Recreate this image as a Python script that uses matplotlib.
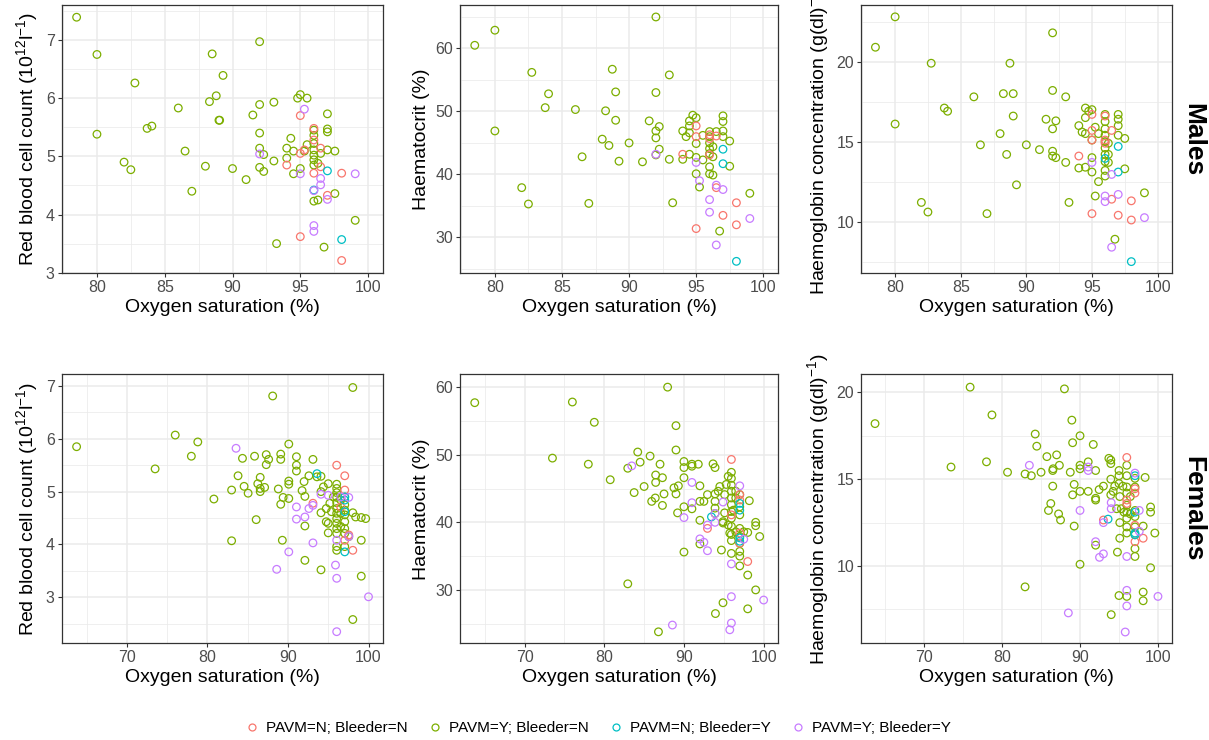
import matplotlib
matplotlib.use("Agg")
import matplotlib.pyplot as plt
from matplotlib.lines import Line2D
from matplotlib.ticker import MultipleLocator, FixedLocator

plt.rcParams['font.family'] = ['Liberation Sans', 'DejaVu Sans']
plt.rcParams['mathtext.fontset'] = 'custom'
plt.rcParams['mathtext.rm'] = 'Liberation Sans'
plt.rcParams['mathtext.it'] = 'Liberation Sans:italic'
plt.rcParams['mathtext.bf'] = 'Liberation Sans:bold'

# ---------------- data ----------------
groups = ["PAVM=N; Bleeder=N", "PAVM=Y; Bleeder=N", "PAVM=N; Bleeder=Y", "PAVM=Y; Bleeder=Y"]
colors = ["#F8766D", "#7CAE00", "#00BFC4", "#C77CFF"]
rows = ["Males", "Females"]
xlabel = "Oxygen saturation (%)"
ylabels = [r"Red blood cell count (10$^{12}$l$^{-1}$)", "Haematocrit (%)",
           r"Haemoglobin concentration (g(dl)$^{-1}$)"]

# Males - red blood cell count
m_rbc_nn = [(95.0, 5.70), (94.0, 4.85), (95.0, 5.05), (95.0, 3.62), (96.0, 5.48), (96.0, 5.28),
            (96.0, 4.71), (96.5, 5.14), (96.5, 4.82), (97.0, 4.33), (98.05, 4.71), (98.05, 3.21), (95.3, 5.11)]
m_rbc_yn = [(78.5, 7.39), (80, 6.75), (80, 5.38), (82.8, 6.26), (82.0, 4.90), (82.5, 4.77), (83.7, 5.48),
            (84.05, 5.52), (86.0, 5.83), (86.5, 5.09), (87.0, 4.40), (88.0, 4.83), (88.3, 5.94), (88.5, 6.76),
            (88.8, 6.04), (89.0, 5.62), (89.05, 5.62), (89.3, 6.39), (90.0, 4.79), (91.0, 4.60), (91.5, 5.71),
            (92.0, 6.97), (92.0, 5.89), (92.0, 5.40), (92.0, 5.14), (92.0, 4.81), (92.3, 5.03), (92.3, 4.74),
            (93.05, 5.93), (93.05, 4.92), (93.25, 3.50), (94.0, 5.14), (94.0, 4.97), (94.3, 5.31), (94.5, 5.09),
            (94.5, 4.70), (94.8, 6.00), (95.0, 6.06), (95.0, 4.79), (95.3, 5.09), (95.5, 5.20), (95.5, 6.00),
            (96.0, 5.45), (96.0, 5.36), (96.0, 5.22), (96.0, 5.11), (96.0, 5.02), (96.0, 4.94), (96.0, 4.85),
            (96.0, 4.23), (96.3, 4.88), (96.3, 4.25), (96.5, 5.05), (96.75, 3.44), (97.0, 5.73), (97.0, 5.47),
            (97.0, 5.42), (97.0, 5.11), (97.55, 5.09), (97.55, 4.36), (99.05, 3.90)]
m_rbc_ny = [(97.0, 4.75), (96.0, 4.42), (98.05, 3.57)]
m_rbc_yy = [(95.3, 5.81), (92.0, 5.04), (95.0, 4.70), (96.5, 4.62), (96.5, 4.51), (96.0, 4.41), (97.0, 4.26),
            (96.0, 3.81), (96.0, 3.71), (99.05, 4.70)]

# Males - haematocrit
m_hct_nn = [(95.0, 47.7), (95.0, 46.0), (95.0, 31.4), (94.0, 43.2), (96.0, 46.3), (96.0, 45.7), (96.5, 46.1),
            (96.5, 37.9), (96.0, 43.1), (97.0, 33.5), (98.0, 35.5), (98.0, 32.0)]
m_hct_yn = [(78.5, 60.5), (80, 62.9), (80, 46.9), (82.75, 56.2), (82.0, 37.9), (82.5, 35.3), (83.75, 50.6),
            (84.0, 52.8), (86.0, 50.3), (86.5, 42.8), (87.0, 35.4), (88.0, 45.6), (88.25, 50.1), (88.5, 44.6),
            (88.75, 56.7), (89.0, 53.1), (89.0, 48.6), (89.25, 42.1), (90.0, 45.0), (91.0, 42.0), (91.5, 48.5),
            (92.0, 65.0), (92.0, 53.0), (92.0, 46.9), (92.0, 45.8), (92.0, 43.1), (92.25, 47.6), (92.25, 44.0),
            (93.0, 55.8), (93.0, 42.4), (93.25, 35.5), (94.0, 46.9), (94.0, 42.4), (94.25, 46.0), (94.5, 48.5),
            (94.5, 47.7), (94.5, 46.6), (94.5, 43.2), (94.75, 49.4), (95.0, 49.0), (95.0, 44.9), (95.0, 42.7),
            (95.0, 40.1), (95.25, 38.0), (95.5, 46.2), (95.5, 42.3), (96.0, 46.8), (96.0, 46.0), (96.0, 45.0),
            (96.0, 44.1), (96.0, 43.3), (96.0, 41.2), (96.0, 40.1), (96.25, 44.4), (96.25, 42.8), (96.25, 39.9),
            (96.5, 46.8), (96.75, 31.0), (97.0, 49.3), (97.0, 48.4), (97.0, 46.9), (97.0, 46.0), (97.5, 45.3),
            (97.5, 41.3), (99.0, 37.0)]
m_hct_ny = [(97.0, 44.0), (97.0, 41.7), (98.0, 26.2)]
m_hct_yy = [(92.0, 43.2), (95.0, 41.9), (95.25, 39.0), (96.5, 38.3), (97.0, 37.6), (96.0, 36.0), (96.0, 34.0),
            (96.5, 28.8), (99.0, 33.0)]

# Males - haemoglobin
m_hb_nn = [(95.0, 16.7), (95.0, 15.7), (95.0, 15.1), (95.0, 10.5), (94.0, 14.1), (96.0, 16.6), (96.0, 15.1),
           (96.0, 14.9), (96.5, 15.7), (96.5, 11.4), (97.0, 10.4), (98.0, 11.3), (98.0, 10.1)]
m_hb_yn = [(78.5, 20.9), (80, 22.8), (80, 16.1), (82.75, 19.9), (82.0, 11.2), (82.5, 10.6), (83.75, 17.1),
           (84.0, 16.9), (86.0, 17.8), (86.5, 14.8), (87.0, 10.5), (88.0, 15.5), (88.25, 18.0), (88.5, 14.2),
           (88.75, 19.9), (89.0, 18.0), (89.0, 16.6), (89.25, 12.3), (90.0, 14.8), (91.0, 14.5), (91.5, 16.4),
           (92.0, 21.8), (92.0, 18.2), (92.0, 15.8), (92.0, 14.4), (92.0, 14.1), (92.25, 16.3), (92.25, 14.0),
           (93.0, 17.8), (93.0, 13.7), (93.25, 11.2), (94.0, 16.0), (94.0, 13.35), (94.25, 15.6), (94.5, 17.1),
           (94.5, 16.5), (94.5, 15.5), (94.5, 13.4), (94.75, 16.9), (95.0, 17.0), (95.0, 15.1), (95.0, 14.0),
           (95.0, 13.1), (95.25, 15.9), (95.25, 11.6), (95.5, 15.5), (95.5, 12.5), (96.0, 16.7), (96.0, 16.25),
           (96.0, 15.8), (96.0, 15.4), (96.0, 15.0), (96.0, 14.6), (96.0, 14.2), (96.0, 13.75), (96.0, 13.2),
           (96.0, 12.85), (96.25, 14.9), (96.25, 14.2), (96.25, 13.7), (96.75, 8.9), (97.0, 16.7), (97.0, 16.4),
           (97.0, 16.0), (97.0, 15.4), (97.5, 15.2), (97.5, 13.3), (99.0, 11.8)]
m_hb_ny = [(97.0, 14.7), (97.0, 13.1), (96.0, 13.95), (98.0, 7.5)]
m_hb_yy = [(95.0, 13.7), (96.5, 12.95), (96.0, 11.6), (96.0, 11.25), (97.0, 11.7), (96.5, 8.4), (99.0, 10.25)]

# Females - red blood cell count
f_rbc_nn = [(96.05, 5.50), (97.05, 5.30), (97.05, 5.03), (97.05, 4.90), (93.1, 4.78), (97.05, 4.08),
            (98.05, 3.89), (96.55, 4.71), (97.55, 4.18)]
f_rbc_yn = [(63.75, 5.85), (73.5, 5.43), (76.0, 6.07), (78.0, 5.67), (78.8, 5.94), (80.8, 4.86), (83.0, 4.07),
            (83.0, 5.03), (83.8, 5.30), (84.35, 5.63), (84.55, 5.10), (85.05, 4.97), (85.85, 5.67), (86.05, 4.47),
            (86.25, 5.15), (86.55, 5.27), (86.55, 5.06), (86.55, 5.00), (87.1, 5.08), (87.3, 5.70), (87.3, 5.51),
            (87.6, 5.61), (88.1, 6.81), (88.8, 5.05), (89.1, 5.71), (89.1, 5.61), (89.1, 4.76), (89.3, 4.08),
            (89.4, 4.89), (90.1, 5.90), (90.1, 5.20), (90.1, 5.14), (90.1, 4.87), (91.05, 5.66), (91.05, 5.50),
            (91.05, 5.39), (91.75, 5.02), (92.0, 5.19), (92.1, 4.91), (92.1, 4.35), (92.1, 3.70), (92.6, 5.30),
            (93.1, 5.61), (93.6, 5.28), (94.1, 5.29), (94.1, 5.00), (94.1, 3.52), (94.1, 4.60), (94.4, 5.09),
            (94.75, 4.68), (94.75, 4.43), (95.0, 5.15), (95.0, 4.40), (95.0, 4.22), (95.2, 4.78), (95.4, 4.62),
            (95.65, 4.90), (96.05, 5.14), (96.05, 5.06), (96.05, 4.98), (96.05, 4.89), (96.05, 4.79),
            (96.05, 4.68), (96.05, 4.59), (96.05, 4.49), (96.05, 4.40), (96.05, 4.30), (96.05, 4.21),
            (96.05, 3.96), (96.05, 3.89), (96.55, 4.84), (96.55, 4.59), (96.55, 4.34), (97.05, 4.75),
            (97.05, 4.65), (97.05, 4.56), (97.05, 4.43), (97.05, 4.30), (97.05, 4.21), (97.05, 3.96),
            (97.55, 4.15), (98.05, 4.60), (98.05, 6.97), (98.05, 2.58), (98.4, 4.52), (99.1, 4.51), (99.1, 4.08),
            (99.1, 3.40), (99.65, 4.49)]
f_rbc_ny = [(93.6, 5.34), (97.05, 4.84), (97.05, 4.62), (97.05, 3.86), (97.05, 4.90)]
f_rbc_yy = [(83.55, 5.82), (88.6, 3.53), (90.1, 3.86), (91.05, 4.71), (91.05, 4.48), (92.1, 4.52), (92.6, 4.68),
            (93.1, 4.03), (93.1, 4.74), (94.1, 4.95), (95.0, 4.93), (95.9, 3.61), (96.05, 3.36), (96.05, 2.35),
            (96.05, 4.08), (97.55, 4.89), (97.55, 4.15), (100.0, 3.01), (96.55, 4.90)]

# Females - haematocrit
f_hct_nn = [(95.95, 49.3), (97.0, 44.1), (97.0, 43.3), (95.95, 41.1), (92.95, 39.1), (97.0, 36.9), (98.0, 34.2),
            (97.0, 38.4)]
f_hct_yn = [(63.75, 57.7), (73.5, 49.5), (76.0, 57.8), (78.0, 48.6), (78.75, 54.8), (80.75, 46.3), (82.95, 48.0),
            (82.95, 30.9), (83.75, 44.4), (84.2, 50.4), (84.5, 48.9), (85.0, 45.3), (85.75, 49.8), (85.95, 43.1),
            (86.4, 43.6), (86.45, 47.0), (86.45, 45.9), (86.8, 23.8), (87.0, 48.6), (87.3, 42.5), (87.3, 46.6),
            (87.5, 44.2), (87.95, 60.0), (88.75, 45.1), (89.0, 44.2), (89.0, 50.7), (89.0, 54.3), (89.2, 41.4),
            (89.3, 45.4), (90.0, 49.0), (90.0, 48.1), (90.0, 46.6), (90.0, 42.3), (90.0, 35.6), (91.0, 48.6),
            (91.0, 48.3), (91.0, 42.0), (91.8, 48.6), (92.0, 45.4), (92.0, 43.1), (92.0, 40.3), (92.0, 36.8),
            (92.5, 43.1), (92.95, 44.1), (93.65, 48.65), (93.9, 48.1), (93.9, 44.2), (93.9, 43.1), (93.9, 42.1),
            (93.9, 41.3), (93.95, 26.5), (94.3, 44.6), (94.5, 45.3), (94.7, 35.9), (94.9, 40.1), (94.9, 39.9),
            (94.9, 28.1), (95.1, 44.1), (95.1, 41.4), (95.3, 45.6), (95.55, 46.8), (95.55, 39.6), (95.75, 38.4),
            (95.95, 47.4), (95.95, 46.5), (95.95, 45.5), (95.95, 44.6), (95.95, 43.6), (95.95, 42.6),
            (95.95, 41.6), (95.95, 40.6), (95.95, 39.4), (95.95, 38.2), (95.95, 37.3), (95.95, 35.4),
            (96.2, 41.8), (96.5, 44.6), (96.5, 43.6), (96.5, 38.6), (97.0, 44.1), (97.0, 42.3), (97.0, 41.1),
            (97.0, 39.1), (97.0, 37.9), (97.0, 36.9), (97.0, 35.7), (97.0, 35.0), (97.0, 33.55), (98.0, 38.5),
            (98.0, 32.2), (98.0, 27.2), (98.2, 43.2), (99.0, 40.0), (99.0, 39.5), (99.0, 30.0), (99.5, 37.9),
            (97.5, 38.6)]
f_hct_ny = [(93.45, 40.8), (97.0, 42.8), (97.0, 41.8), (97.0, 37.7), (97.0, 37.2)]
f_hct_yy = [(83.45, 48.35), (90.0, 40.7), (91.0, 45.9), (91.0, 42.9), (92.0, 37.55), (92.5, 37.05), (92.95, 39.6),
            (92.95, 35.8), (93.9, 41.3), (93.9, 40.0), (94.9, 43.0), (95.95, 33.85), (95.95, 29.0), (95.95, 25.1),
            (95.75, 24.1), (88.55, 24.8), (97.0, 45.4), (97.5, 37.5), (100.0, 28.5)]

# Females - haemoglobin
f_hb_nn = [(96.0, 16.25), (97.05, 14.45), (97.05, 14.2), (96.0, 13.8), (96.0, 13.6), (93.0, 12.65), (97.05, 11.4),
           (98.1, 11.6), (97.05, 12.35)]
f_hb_yn = [(63.7, 18.2), (73.45, 15.7), (75.9, 20.3), (78.0, 16.0), (78.7, 18.7), (80.7, 15.4), (82.95, 15.3),
           (82.95, 8.8), (83.75, 15.2), (84.25, 17.6), (84.45, 16.9), (85.0, 15.4), (85.75, 16.3), (85.95, 13.2),
           (86.25, 13.6), (86.5, 14.6), (86.5, 15.5), (86.55, 15.6), (87.0, 16.4), (87.25, 13.0), (87.35, 15.8),
           (87.5, 12.65), (88.0, 20.2), (88.75, 15.4), (88.95, 18.4), (89.05, 17.1), (89.05, 14.1), (89.25, 14.7),
           (89.25, 12.3), (90.0, 17.5), (90.0, 15.8), (90.0, 15.6), (90.0, 14.3), (90.0, 10.1), (91.05, 16.0),
           (91.05, 14.3), (91.7, 17.0), (92.0, 15.5), (92.0, 13.9), (92.0, 13.8), (92.0, 11.2), (92.45, 14.4),
           (93.0, 14.6), (93.7, 16.2), (93.95, 16.1), (93.95, 15.9), (93.95, 15.0), (93.95, 14.1), (94.0, 7.2),
           (94.25, 14.3), (94.45, 14.6), (94.7, 13.3), (94.8, 10.8), (95.0, 15.5), (95.0, 15.2), (95.0, 14.75),
           (95.0, 8.3), (95.1, 14.0), (95.1, 12.5), (95.1, 11.6), (95.3, 13.3), (95.5, 14.6), (95.65, 13.1),
           (96.0, 15.8), (96.0, 15.2), (96.0, 14.55), (96.0, 14.2), (96.0, 13.5), (96.0, 13.1), (96.0, 12.75),
           (96.0, 12.25), (96.0, 11.9), (96.0, 8.25), (96.45, 14.0), (96.45, 13.0), (97.05, 15.05),
           (97.05, 14.55), (97.05, 13.2), (97.05, 12.85), (97.05, 12.25), (97.05, 11.8), (97.05, 11.0),
           (97.05, 10.55), (98.1, 12.3), (98.1, 8.5), (98.1, 8.0), (98.35, 15.1), (99.05, 13.4), (99.05, 13.1),
           (99.05, 9.9), (99.6, 11.9)]
f_hb_ny = [(93.6, 12.7), (97.05, 15.2), (97.05, 13.1), (97.05, 11.9), (97.05, 11.8)]
f_hb_yy = [(83.5, 15.8), (88.5, 7.3), (90.0, 13.2), (91.05, 15.5), (91.05, 15.7), (92.0, 11.4), (92.5, 10.5),
           (93.0, 10.7), (93.0, 12.5), (94.0, 13.65), (94.0, 13.3), (96.0, 10.55), (96.0, 8.6), (96.0, 7.7),
           (95.8, 6.2), (97.05, 15.35), (97.6, 13.2), (100.0, 8.25), (97.6, 12.0)]

panel_data = [
    [[m_rbc_nn, m_rbc_yn, m_rbc_ny, m_rbc_yy],
     [m_hct_nn, m_hct_yn, m_hct_ny, m_hct_yy],
     [m_hb_nn, m_hb_yn, m_hb_ny, m_hb_yy]],
    [[f_rbc_nn, f_rbc_yn, f_rbc_ny, f_rbc_yy],
     [f_hct_nn, f_hct_yn, f_hct_ny, f_hct_yy],
     [f_hb_nn, f_hb_yn, f_hb_ny, f_hb_yy]],
]

# ---------------- layout / style ----------------
W, H = 1209, 740
fig = plt.figure(figsize=(W / 100, H / 100), dpi=100)

col_px = [(61.7, 383.0), (460.0, 778.0), (861.0, 1172.0)]
row_px = [(5.0, 273.3), (374.3, 643.3)]

xlims = [(77.4, 101.1), (61.9, 101.8)]
xmajor = [[80, 85, 90, 95, 100], [70, 80, 90, 100]]
xminor = [[77.5, 82.5, 87.5, 92.5, 97.5], [65, 75, 85, 95]]
ylims = [[(2.99, 7.6), (24.3, 66.9), (6.77, 23.54)],
         [(2.13, 7.22), (22.1, 61.9), (5.55, 21.04)]]
ymajor = [[[3, 4, 5, 6, 7], [30, 40, 50, 60], [10, 15, 20]],
          [[3, 4, 5, 6, 7], [30, 40, 50, 60], [10, 15, 20]]]
yminor = [[[3.5, 4.5, 5.5, 6.5, 7.5], [25, 35, 45, 55, 65], [7.5, 12.5, 17.5, 22.5]],
          [[2.5, 3.5, 4.5, 5.5, 6.5], [25, 35, 45, 55], [7.5, 12.5, 17.5]]]

grid_col = "#EBEBEB"
for r in range(2):
    for c in range(3):
        x0, x1 = col_px[c]
        y0, y1 = row_px[r]
        ax = fig.add_axes([x0 / W, 1 - y1 / H, (x1 - x0) / W, (y1 - y0) / H])
        ax.set_facecolor("white")
        ax.set_xlim(*xlims[r])
        ax.set_ylim(*ylims[r][c])
        ax.xaxis.set_major_locator(FixedLocator(xmajor[r]))
        ax.xaxis.set_minor_locator(FixedLocator(xminor[r]))
        ax.yaxis.set_major_locator(FixedLocator(ymajor[r][c]))
        ax.yaxis.set_minor_locator(FixedLocator(yminor[r][c]))
        ax.grid(which="major", color=grid_col, linewidth=1.1, zorder=0)
        ax.grid(which="minor", color=grid_col, linewidth=0.55, zorder=0)
        ax.set_axisbelow(True)
        ax.tick_params(which="major", length=3, width=0.8, color="#333333",
                       labelsize=11.5, labelcolor="#4D4D4D", pad=2)
        ax.tick_params(which="minor", length=0)
        for sp in ax.spines.values():
            sp.set_color("#333333")
            sp.set_linewidth(0.9)
        order = [1, 0, 2, 3]
        for g in order:
            pts = panel_data[r][c][g]
            xs = [p[0] for p in pts]
            ys = [p[1] for p in pts]
            ax.scatter(xs, ys, s=30, facecolors="none", edgecolors=colors[g],
                       linewidths=0.9, zorder=3, clip_on=False)
        ax.set_xlabel(xlabel, fontsize=14, labelpad=3)
        ax.set_ylabel(ylabels[c], fontsize=14, labelpad=4)
    # strip label on the right
    yc = (row_px[r][0] + row_px[r][1]) / 2
    fig.text(1193 / W, 1 - yc / H, rows[r], rotation=-90, fontsize=19, fontweight="bold",
             ha="center", va="center")

handles = [Line2D([], [], marker="o", linestyle="none", markerfacecolor="none",
                  markeredgecolor=colors[i], markersize=5, markeredgewidth=0.9) for i in range(4)]
fig.legend(handles, groups, loc="center", bbox_to_anchor=(597 / W, 1 - 728 / H), ncol=4,
           frameon=False, fontsize=11, handletextpad=0.3, columnspacing=1.2, handlelength=1.2)

fig.savefig("out.png", dpi=100)
